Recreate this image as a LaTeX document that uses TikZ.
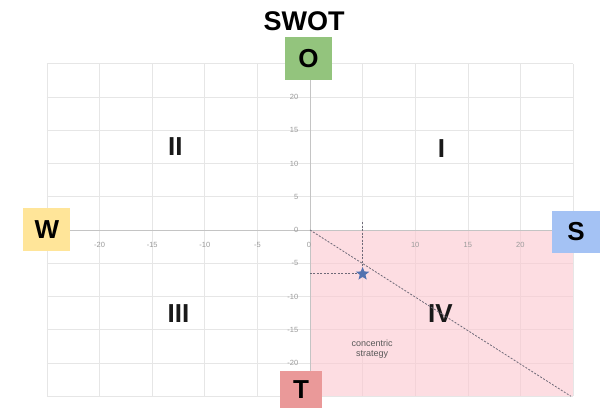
\documentclass[tikz,border=0pt]{standalone}
\usepackage{fontspec}
\setmainfont{Liberation Sans}
\usetikzlibrary{shapes.geometric}
\definecolor{ogreen}{HTML}{93C47D}
\definecolor{wyellow}{HTML}{FFE599}
\definecolor{sblue}{HTML}{A4C2F4}
\definecolor{tred}{HTML}{EA9999}
\definecolor{pinkbg}{HTML}{FDDDE2}
\definecolor{gridc}{HTML}{E6E6E6}
\definecolor{gridp}{HTML}{F3D3D8}
\definecolor{axisc}{HTML}{C4C4C4}
\definecolor{tickc}{HTML}{9A9A9A}
\definecolor{dashc}{HTML}{6F6A78}
\definecolor{starc}{HTML}{5272B0}
\tikzset{
  x=10.52pt, y=6.65pt,
  letterbox/.style={font=\bfseries\fontsize{26}{26}\selectfont, inner sep=0pt, minimum width=47pt, minimum height=43pt, text=black},
  quadlabel/.style={font=\bfseries\fontsize{26}{26}\selectfont, text=black!90},
  ticklabel/.style={font=\fontsize{7.5}{7.5}\selectfont, text=tickc, inner sep=1pt},
  gridline/.style={draw=gridc, line width=0.6pt},
  gridpink/.style={draw=gridp, line width=0.6pt},
  guide/.style={draw=dashc, line width=0.8pt, dash pattern=on 2pt off 1.5pt},
}
\begin{document}
\begin{tikzpicture}
\useasboundingbox[fill=white] (-310pt,-182pt) rectangle (301pt,230pt);
% grid
\foreach \v in {-25,-20,...,25} {
  \draw[gridline] (\v,-25) -- (\v,25);
  \draw[gridline] (-25,\v) -- (25,\v);
}
% pink quadrant with its faint grid
\fill[pinkbg] (0,0) rectangle (25,-25);
\foreach \v in {5,10,...,20} {
  \draw[gridpink] (\v,0) -- (\v,-25);
  \draw[gridpink] (0,-\v) -- (25,-\v);
}
% axes
\draw[axisc, line width=0.7pt] (-25,0) -- (25,0);
\draw[axisc, line width=0.7pt] (0,-25) -- (0,25);
% tick labels
\foreach \v/\n in {-20/xa,-15/xb,-10/xc,-5/xd,10/xf,15/xg,20/xh} {
  \node[ticklabel] (\n) at (\v,-2.3) {\v};
}
\node[ticklabel] (x0) at (-0.1,-2.3) {0};
\foreach \v/\n in {20/ya,15/yb,10/yc,5/yd,0/ye,-5/yf,-10/yg,-15/yh,-20/yi} {
  \node[ticklabel, anchor=east] (\n) at (-1,\v) {\v};
}
% quadrant numerals
\node[quadlabel] (q2) at (-12.8,12.5) {II};
\node[quadlabel] (q1) at (12.5,12.3) {I};
\node[quadlabel] (q3) at (-12.5,-12.5) {III};
\node[quadlabel] (q4) at (12.4,-12.6) {IV};
\node[font=\fontsize{9}{10}\selectfont, text=black!65, align=center] (conc) at (5.9,-17.9) {concentric\\strategy};
% guide lines and star
\coordinate (orig) at (0,0);
\coordinate (diagend) at (24.8,-25);
\coordinate (sx) at (5,1.2);
\coordinate (sy) at (0,-6.6);
\draw[guide] (orig) -- (diagend);
\draw[guide] (sx) -- (5,-6.6);
\draw[guide] (sy) -- (5,-6.6);
\node[star, star points=5, star point ratio=2.3, fill=starc, inner sep=0pt, minimum size=14pt] (st) at (5,-6.6) {};
% letter boxes
\node[letterbox, fill=ogreen] (O) at (-0.15,25.8) {O};
\node[letterbox, fill=wyellow] (W) at (-25,0) {W};
\node[letterbox, fill=sblue, minimum width=48pt, minimum height=42pt] (S) at (25.3,-0.3) {S};
\node[letterbox, fill=tred, minimum width=42pt, minimum height=37pt] (T) at (-0.86,-24) {T};
% title
\node[font=\bfseries\fontsize{27}{27}\selectfont] (title) at (-0.57,31.35) {SWOT};
\end{tikzpicture}
\end{document}
